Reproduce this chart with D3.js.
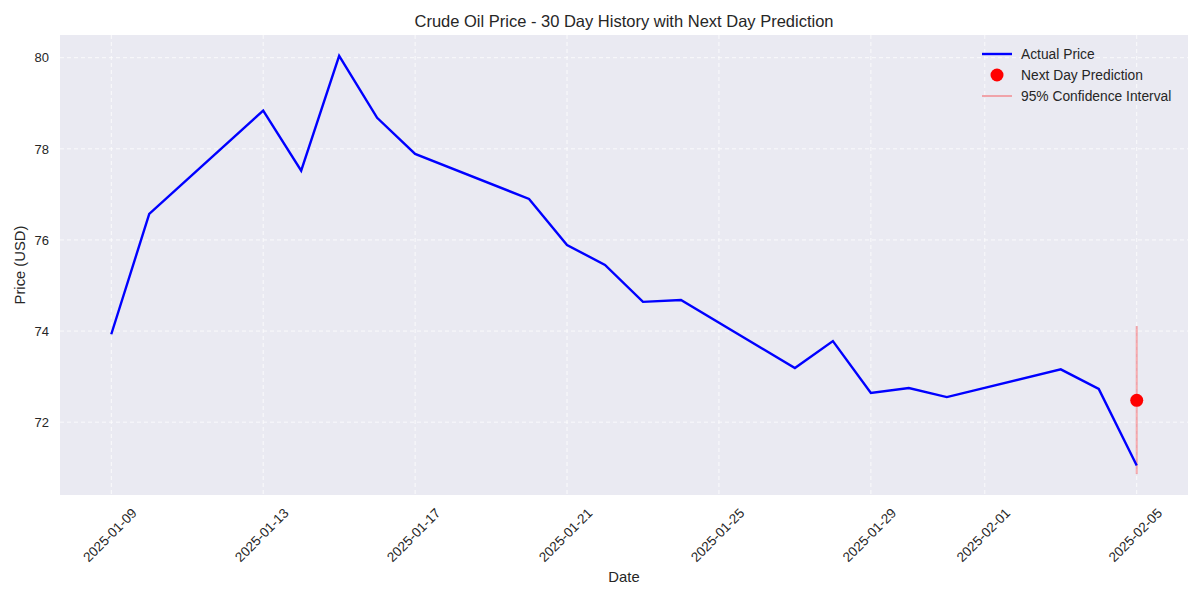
<!DOCTYPE html>
<html><head><meta charset="utf-8">
<script src="https://cdn.jsdelivr.net/npm/d3@7"></script>
<style>body{margin:0;background:#fff;font-family:"Liberation Sans",Arial,sans-serif;}</style>
</head><body><svg id="c" width="1200" height="600"></svg>
<script>
const dates = ["2025-01-09","2025-01-10","2025-01-13","2025-01-14","2025-01-15","2025-01-16","2025-01-17","2025-01-20","2025-01-21","2025-01-22","2025-01-23","2025-01-24","2025-01-27","2025-01-28","2025-01-29","2025-01-30","2025-01-31","2025-02-03","2025-02-04","2025-02-05"];
const prices = [73.93,76.57,78.84,77.52,80.04,78.68,77.89,76.90,75.89,75.45,74.64,74.68,73.19,73.78,72.64,72.75,72.55,73.16,72.73,71.05];
const predDate = "2025-02-05";
const predValue = 72.48;
const ciLow = 70.86, ciHigh = 74.11;
const xTickLabels = ["2025-01-09","2025-01-13","2025-01-17","2025-01-21","2025-01-25","2025-01-29","2025-02-01","2025-02-05"];
const yTicks = [72,74,76,78,80];

const parse = d3.utcParse("%Y-%m-%d");
const fmt = d3.utcFormat("%Y-%m-%d");
const svg = d3.select("#c");
const L=60,R=1188,T=35,B=495;
const d0 = parse(dates[0]).getTime(), d1 = parse(dates[dates.length-1]).getTime();
const pad = (d1-d0)*0.05;
const x = d3.scaleUtc().domain([new Date(d0-pad), new Date(d1+pad)]).range([L,R]);
const ymin = Math.min(ciLow, d3.min(prices)), ymax = Math.max(ciHigh, d3.max(prices));
const yp = (ymax-ymin)*0.05;
const y = d3.scaleLinear().domain([ymin-yp, ymax+yp]).range([B,T]);

svg.append("rect").attr("x",L).attr("y",T).attr("width",R-L).attr("height",B-T).attr("fill","#eaeaf2");

const xt = xTickLabels.map(parse);
svg.append("g").selectAll("line").data(xt).join("line")
  .attr("x1",d=>x(d)).attr("x2",d=>x(d)).attr("y1",T).attr("y2",B)
  .attr("stroke","#fff").attr("stroke-width",0.9).attr("stroke-dasharray","4,3").attr("opacity",0.9);
svg.append("g").selectAll("line").data(yTicks).join("line")
  .attr("x1",L).attr("x2",R).attr("y1",d=>y(d)).attr("y2",d=>y(d))
  .attr("stroke","#fff").attr("stroke-width",0.9).attr("stroke-dasharray","4,3").attr("opacity",0.9);

const xAxis = svg.append("g").attr("transform",`translate(0,${B})`)
  .call(d3.axisBottom(x).tickValues(xt).tickFormat(fmt).tickSize(0).tickPadding(0));
xAxis.select(".domain").remove();
xAxis.selectAll("text").attr("font-size",13.5).attr("fill","#262626")
  .attr("font-family","Liberation Sans, Arial, sans-serif")
  .attr("text-anchor","middle").attr("y",0).attr("dy","0.35em")
  .attr("transform","translate(-2,40) rotate(-45)");
const yAxis = svg.append("g").attr("transform",`translate(${L},0)`)
  .call(d3.axisLeft(y).tickValues(yTicks).tickFormat(d3.format("d")).tickSize(0).tickPadding(11));
yAxis.select(".domain").remove();
yAxis.selectAll("text").attr("font-size",13).attr("fill","#262626").attr("font-family","Liberation Sans, Arial, sans-serif");

const px = x(parse(predDate));
svg.append("line").attr("x1",px).attr("x2",px).attr("y1",y(ciLow)).attr("y2",y(ciHigh))
  .attr("stroke","#ff0000").attr("stroke-opacity",0.3).attr("stroke-width",2);
const line = d3.line().x((d,i)=>x(parse(dates[i]))).y(d=>y(d));
svg.append("path").datum(prices).attr("d",line).attr("fill","none").attr("stroke","#0000ff").attr("stroke-width",2.4).attr("stroke-linejoin","miter");
svg.append("circle").attr("cx",px).attr("cy",y(predValue)).attr("r",6.5).attr("fill","#ff0000");

svg.append("text").attr("x",(L+R)/2).attr("y",27).attr("text-anchor","middle").attr("font-size",16.5).attr("fill","#262626").text("Crude Oil Price - 30 Day History with Next Day Prediction");
svg.append("text").attr("x",(L+R)/2).attr("y",582).attr("text-anchor","middle").attr("font-size",14.8).attr("fill","#262626").text("Date");
svg.append("text").attr("transform",`translate(25,${(T+B)/2}) rotate(-90)`).attr("text-anchor","middle").attr("font-size",14.8).attr("fill","#262626").text("Price (USD)");

const lg = svg.append("g").attr("font-size",13.8).attr("fill","#262626");
const ly=[54,75,96];
lg.append("line").attr("x1",982).attr("x2",1012).attr("y1",ly[0]).attr("y2",ly[0]).attr("stroke","#0000ff").attr("stroke-width",2.4);
lg.append("circle").attr("cx",997).attr("cy",ly[1]).attr("r",6.5).attr("fill","#ff0000");
lg.append("line").attr("x1",982).attr("x2",1012).attr("y1",ly[2]).attr("y2",ly[2]).attr("stroke","#ff0000").attr("stroke-opacity",0.3).attr("stroke-width",2);
["Actual Price","Next Day Prediction","95% Confidence Interval"].forEach((t,i)=>{
  lg.append("text").attr("x",1021).attr("y",ly[i]+5).text(t);
});
</script></body></html>
